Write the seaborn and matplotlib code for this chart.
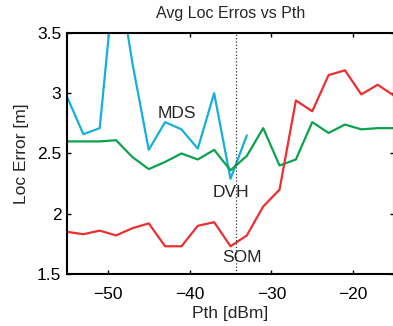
import matplotlib
matplotlib.use("Agg")
import matplotlib.pyplot as plt
import matplotlib.ticker as mticker
import seaborn as sns
import pandas as pd

# Dados
pth = [-55, -53, -51, -49, -47, -45, -43, -41, -39, -37, -35,
       -33, -31, -29, -27, -25, -23, -21, -19, -17, -15]
mds = [2.97, 2.66, 2.71, 4.10, 3.25, 2.53, 2.76, 2.70, 2.54, 3.00, 2.29, 2.65]
dvh = [2.60, 2.60, 2.60, 2.61, 2.47, 2.37, 2.43, 2.50, 2.45, 2.53, 2.36,
       2.48, 2.71, 2.40, 2.45, 2.76, 2.67, 2.74, 2.70, 2.71, 2.71]
som = [1.85, 1.83, 1.86, 1.82, 1.88, 1.92, 1.73, 1.73, 1.90, 1.93, 1.73,
       1.82, 2.06, 2.20, 2.94, 2.85, 3.15, 3.19, 2.99, 3.07, 2.98]
pth_corte = -34.3

sns.set_style("ticks")
plt.rcParams['font.family'] = ['Liberation Sans', 'DejaVu Sans']

fig = plt.figure(figsize=(3.93, 3.26), dpi=100)
ax = fig.add_axes([0.1705, 0.1595, 0.832, 0.7395])

cores = {'MDS': '#14b0d8', 'DVH': '#0ca24c', 'SOM': '#ee2e31'}
df = pd.concat([
    pd.DataFrame({'Pth': pth[:len(mds)], 'err': mds, 'alg': 'MDS'}),
    pd.DataFrame({'Pth': pth, 'err': dvh, 'alg': 'DVH'}),
    pd.DataFrame({'Pth': pth, 'err': som, 'alg': 'SOM'}),
])
sns.lineplot(data=df, x='Pth', y='err', hue='alg', palette=cores,
             linewidth=1.6, legend=False, ax=ax, sort=False)

ax.axvline(pth_corte, color='#333333', linestyle=':', linewidth=0.9)

ax.text(-41.5, 2.83, 'MDS', fontsize=12.5, ha='center', va='center')
ax.text(-34.9, 2.175, 'DVH', fontsize=12.5, ha='center', va='center')
ax.text(-33.6, 1.633, 'SOM', fontsize=12.5, ha='center', va='center')

ax.set_xlim(-55, -15)
ax.set_ylim(1.5, 3.5)
ax.set_xticks([-50, -40, -30, -20])
ax.set_yticks([1.5, 2, 2.5, 3, 3.5])
ax.yaxis.set_major_formatter(mticker.FormatStrFormatter('%g'))
ax.tick_params(direction='in', top=True, right=True, labelsize=12.5,
               length=3, width=1, colors='black', pad=4)
ax.tick_params(axis='x', pad=9)
for s in ax.spines.values():
    s.set_visible(True)
    s.set_linewidth(1.5)
    s.set_color('black')

ax.set_title('Avg Loc Erros vs Pth', fontsize=11.5, pad=11)
ax.set_xlabel('Pth [dBm]', fontsize=12.5, labelpad=3)
ax.set_ylabel('Loc Error [m]', fontsize=12.5, labelpad=6)

fig.savefig('out.png', dpi=100)
